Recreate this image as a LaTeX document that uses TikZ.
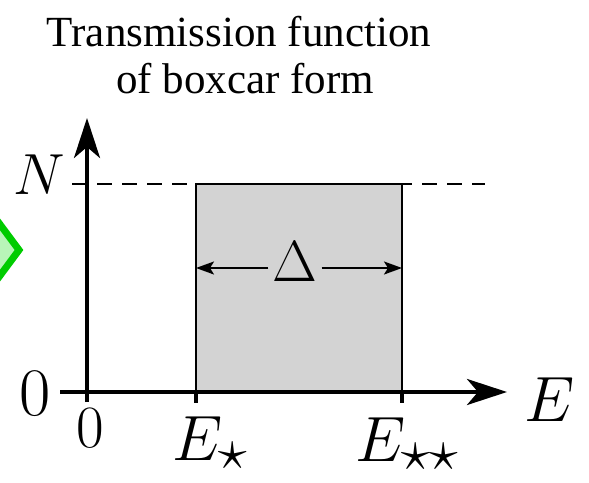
\RequirePackage{fix-cm}
\documentclass[tikz,border=0pt]{standalone}
\usepackage{fontspec}
\newfontfamily\titlefont{Liberation Serif}
\newcommand{\bigstarsub}[1]{\mbox{\fontsize{58}{60}\selectfont$#1$}}
\usetikzlibrary{arrows.meta}
\definecolor{boxgray}{HTML}{D3D3D3}
\definecolor{dgreen}{HTML}{00CC00}
\definecolor{lgreen}{HTML}{B8F5B8}
\tikzset{
  titletext/.style={font=\titlefont\fontsize{43}{50}\selectfont, inner sep=0pt},
  mathlabel/.style={font=\fontsize{64}{70}\selectfont, inner sep=0pt},
  axisline/.style={line width=4pt, -{Stealth[length=40pt,width=26pt,inset=11pt]}},
  tickline/.style={line width=4pt},
  dimarrow/.style={line width=2pt, -{Stealth[length=18pt,width=13pt,inset=4pt]}},
}
\begin{document}
\begin{tikzpicture}[x=1pt,y=-1pt]
\useasboundingbox (0,0) rectangle (589,482);
% partial green diamond at the left edge
\draw[line width=7pt, draw=dgreen, fill=lgreen, line join=miter]
  (-30,184) -- (19,250) -- (-30,316) -- (-79,250) -- cycle;
% title
\node[titletext, anchor=base] (t1) at (239,46) {Transmission function};
\node[titletext, anchor=base] (t2) at (245,93) {of boxcar form};
% coordinates
\coordinate (O) at (87,392);
\coordinate (xs) at (60,392);
\coordinate (xe) at (507,392);
\coordinate (ys) at (87,402);
\coordinate (ye) at (87,118);
\coordinate (dl) at (72,184);
\coordinate (dr) at (485,184);
\coordinate (bl) at (196,268);
\coordinate (br) at (402,268);
% dashed level line
\draw[line width=2.5pt, dash pattern=on 15pt off 10pt] (dl) -- (dr);
% boxcar
\draw[line width=2pt, fill=boxgray] (196,184) rectangle (402,392);
% ticks
\coordinate (t1a) at (196,392); \coordinate (t1b) at (196,403);
\coordinate (t2a) at (402,392); \coordinate (t2b) at (402,403);
\draw[tickline] (t1a) -- (t1b);
\draw[tickline] (t2a) -- (t2b);
% axes
\draw[axisline] (xs) -- (xe);
\draw[axisline] (ys) -- (ye);
% labels
\node[mathlabel, font=\fontsize{58}{64}\selectfont] (N) at (39,175) {$N$};
\node[mathlabel, font=\fontsize{68}{74}\selectfont] (zl) at (35,394) {$0$};
\node[mathlabel, font=\fontsize{60}{66}\selectfont] (zb) at (90,428) {$0$};
\node[mathlabel] (E) at (550,400) {$E$};
\node[mathlabel, anchor=base west] (Es) at (172,460) {$E_{\bigstarsub{\star}}$};
\node[mathlabel, anchor=base west] (Ess) at (355,461) {$E_{\bigstarsub{\star\star}}$};
% width
\node[font=\fontsize{58}{64}\selectfont, inner sep=4pt] (D) at (295,262) {$\Delta$};
\draw[dimarrow] (D.west |- bl) -- (bl);
\draw[dimarrow] (D.east |- br) -- (br);
\end{tikzpicture}
\end{document}
